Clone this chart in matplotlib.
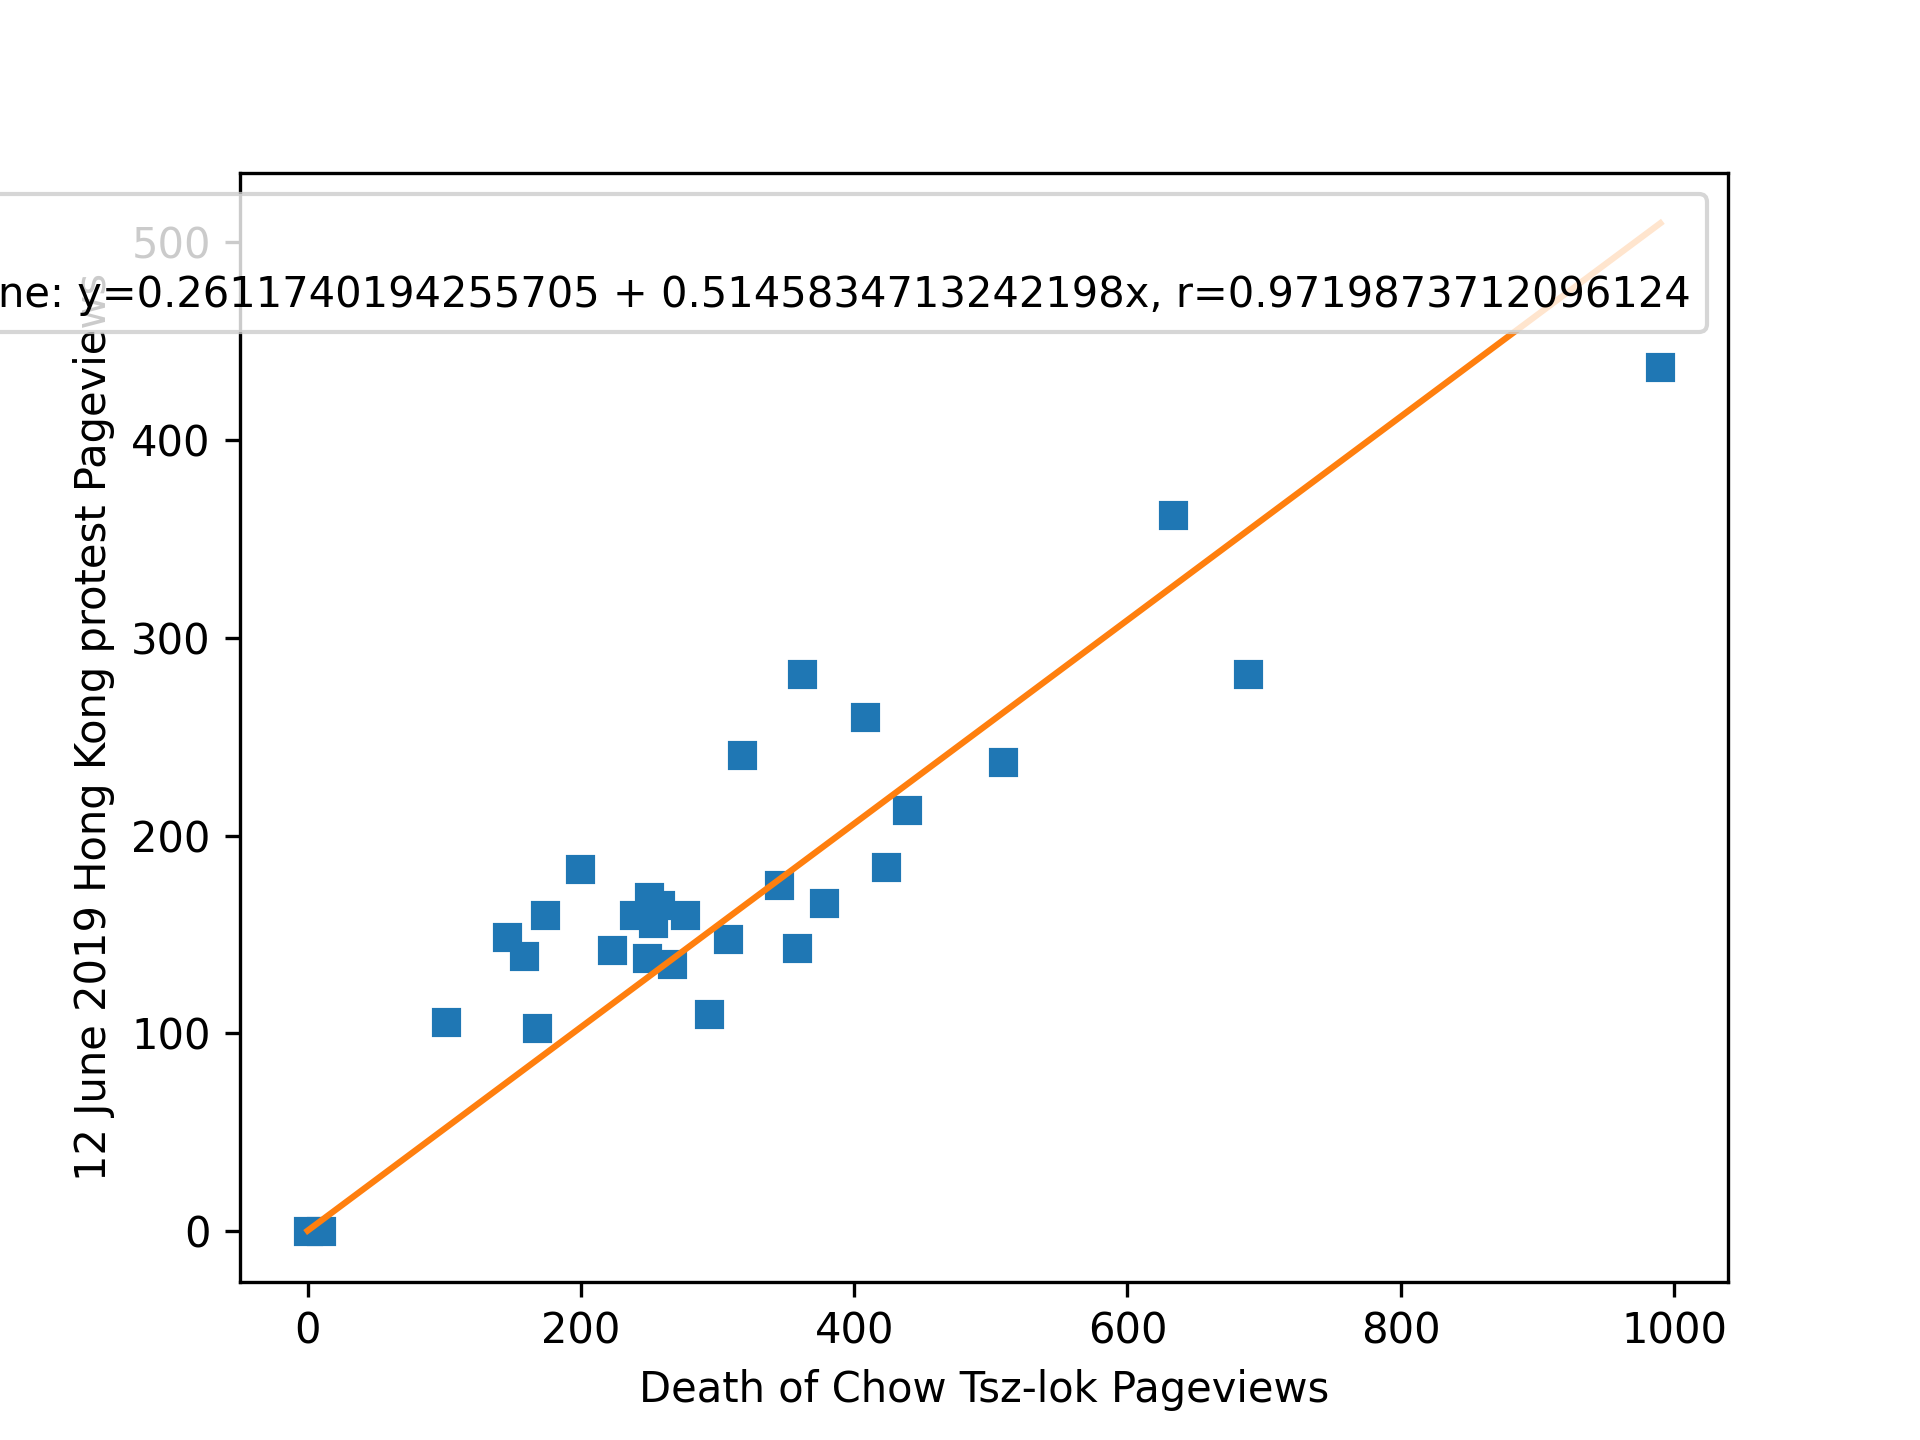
import matplotlib
matplotlib.use("Agg")
import matplotlib.pyplot as plt

# pageviews per day
chow_views = [0, 10, 101, 168, 146, 158, 174, 199, 223, 239, 250, 258, 253, 248,
              267, 276, 294, 308, 345, 358, 318, 362, 378, 408, 423, 439,
              509, 633, 688, 990]
hk_views = [0, 0, 106, 103, 149, 139, 160, 183, 142, 160, 169, 165, 156, 138,
            135, 160, 110, 148, 175, 143, 241, 282, 166, 260, 184, 213,
            237, 362, 282, 437]

intercept = 0.2611740194255705
slope = 0.5145834713242198
r_value = 0.9719873712096124


def main():
    fig = plt.figure(figsize=(6.4, 4.8), dpi=300)

    plt.plot(chow_views, hk_views, 's')

    xs = [min(chow_views), max(chow_views)]
    ys = [intercept + slope * v for v in xs]
    plt.plot(xs, ys, label=f'\nRegression line: y={intercept} + {slope}x, r={r_value}')

    plt.xlabel('Death of Chow Tsz-lok Pageviews')
    plt.ylabel('12 June 2019 Hong Kong protest Pageviews')
    leg = plt.legend(loc='upper right')
    for t in leg.get_texts():
        t.set_linespacing(1.65)

    fig.savefig('out.png', dpi=300)


if __name__ == '__main__':
    main()
